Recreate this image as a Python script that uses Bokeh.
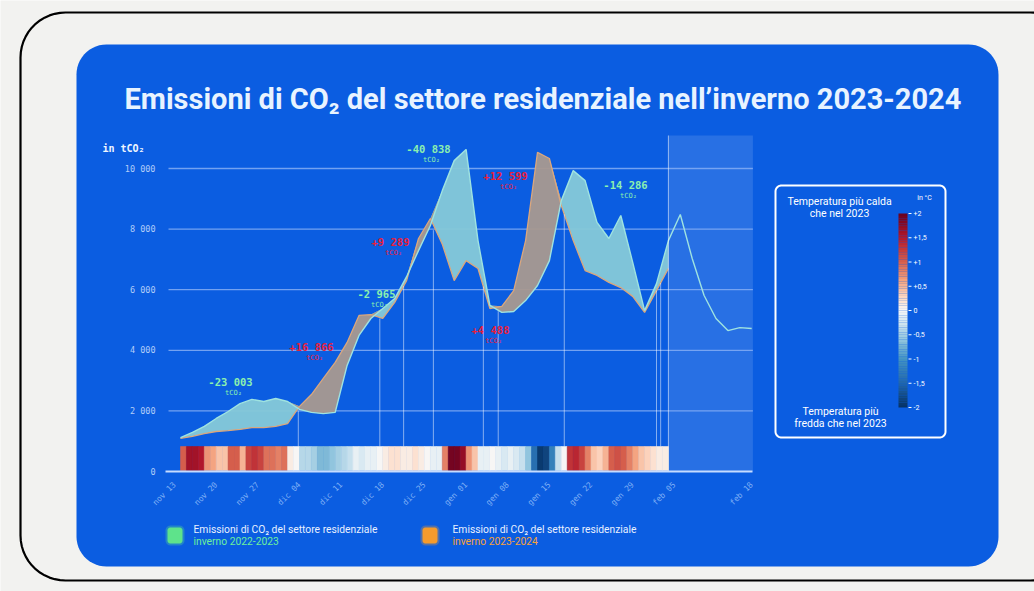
import math
import numpy as np
from bokeh.plotting import figure
from bokeh.models import Range1d, LinearAxis, FixedTicker, ColumnDataSource, LinearColorMapper
from bokeh.core.properties import value
from bokeh.embed import file_html
from bokeh.resources import INLINE

# ---------------- data ----------------
days_2223 = list(range(0, 97, 2))
emissions_2223 = [1120, 1290, 1490, 1750, 1980, 2240, 2380, 2310, 2410, 2310,
                  2050, 1950, 1910, 1950, 3500, 4490, 5050, 5380, 5710, 6430,
                  7290, 8120, 9270, 10260, 10630, 7620, 5480, 5250, 5280, 5640,
                  6140, 6960, 8940, 9930, 9600, 8220, 7690, 8450, 6900, 5310,
                  6200, 7620, 8480, 7030, 5810, 5050, 4650, 4750, 4720]
days_2324 = list(range(0, 83, 2))
emissions_2324 = [1090, 1160, 1250, 1320, 1350, 1390, 1450, 1450, 1490, 1580,
                  2150, 2540, 3070, 3600, 4260, 5150, 5180, 5050, 5580, 6300,
                  7690, 8350, 7500, 6300, 6960, 6700, 5380, 5450, 5970, 7620,
                  10530, 10330, 8780, 7620, 6630, 6470, 6240, 6070, 5780, 5250,
                  5970, 6700]
temp_days = list(range(0, 82))
temp_anomaly = [1.0, 1.6, 1.6, 1.5, 0.7, 0.6, 0.4, 0.4, 1.0, 1.0,
                0.5, 1.2, 1.3, 1.2, 0.9, 0.9, 0.8, 0.9, 0.1, 0.0,
                -0.4, -0.4, -0.5, -0.7, -0.7, -0.6, -0.5, -0.4, -0.3, -0.1,
                -0.2, -0.1, -0.1, 0.0, 0.1, 0.2, 0.2, 0.1, 0.1, 0.2,
                0.1, 0.0, -0.1, -0.1, 0.8, 1.9, 1.9, 1.7, 0.7, 0.4,
                -0.1, -0.1, 0.0, -0.1, -0.2, -0.1, -0.2, -0.3, -0.6, -1.4,
                -1.9, -1.8, -1.2, -0.3, 0.0, 1.3, 1.4, 1.2, 0.8, 0.4,
                0.3, 0.5, 1.0, 1.1, 1.0, 0.8, 0.6, 0.4, 0.3, 0.2,
                0.1, 0.1]
segment_days = [19.8, 33.5, 37.5, 42.5, 50.9, 53.4, 64.5, 80.0, 80.7]
segment_labels = ["-23 003", "+16 866", "-2 965", "+9 289", "-40 838", "+4 488", "+12 599", "-14 286"]
forecast_start = 82
x_end = 96.2
y_ticks = [0, 2000, 4000, 6000, 8000, 10000]
y_tick_labels = ["0", "2 000", "4 000", "6 000", "8 000", "10 000"]
x_ticks = [-1, 6, 13, 20, 27, 34, 41, 48, 55, 62, 69, 76, 83, 96]
x_tick_labels = ["nov 13", "nov 20", "nov 27", "dic 04", "dic 11", "dic 18", "dic 25",
                 "gen 01", "gen 08", "gen 15", "gen 22", "gen 29", "feb 05", "feb 18"]
cbar_ticks = [2, 1.5, 1, 0.5, 0, -0.5, -1, -1.5, -2]
cbar_labels = ["+2", "+1,5", "+1", "+0,5", "0", "-0,5", "-1", "-1,5", "-2"]

# ---------------- layout ----------------
W, H = 1034, 591
DAY0_PX, PX_PER_DAY = 180.0, 5.95
ZERO_PX, PX_PER_T = 471.0, 303.0 / 10000.0

def vy(py):  # pixel row -> value
    return (ZERO_PX - py) / PX_PER_T

def dx(px):  # pixel col -> day
    return (px - DAY0_PX) / PX_PER_DAY

p = figure(width=W, height=H, output_backend="svg", toolbar_location=None,
           x_axis_type=None, y_axis_type=None, min_border=0,
           x_range=Range1d(dx(0), dx(W)), y_range=Range1d(vy(H), vy(0)))
p.min_border_left = p.min_border_right = p.min_border_top = p.min_border_bottom = 0
p.outline_line_color = None
p.background_fill_color = "#f2f2f0"
p.border_fill_color = "#f2f2f0"
p.extra_x_ranges = {"px": Range1d(0, W)}
p.extra_y_ranges = {"px": Range1d(H, 0)}
PX = dict(x_range_name="px", y_range_name="px")

def rrect(x0, y0, x1, y1, r, n=14):
    xs, ys = [], []
    for cx, cy, a0, a1 in [(x1 - r, y0 + r, -90, 0), (x1 - r, y1 - r, 0, 90),
                           (x0 + r, y1 - r, 90, 180), (x0 + r, y0 + r, 180, 270)]:
        t = np.radians(np.linspace(a0, a1, n))
        xs += list(cx + r * np.cos(t))
        ys += list(cy + r * np.sin(t))
    return xs, ys

BLUE = "#0b5de1"
xs, ys = rrect(20, 12, 1075, 580, 45)
p.patch(xs, ys, fill_color=None, line_color="black", line_width=2.2, **PX)
xs, ys = rrect(76, 44, 998, 566, 30)
p.patch(xs, ys, fill_color=BLUE, line_color=None, **PX)

MONO = value("DejaVu Sans Mono")
SANS = value("Roboto")
p.text(x=[124], y=[98], text=["Emissioni di CO\u2082 del settore residenziale nell\u2019inverno 2023-2024"],
       text_font=SANS, text_font_style="bold", text_font_size="29px",
       text_color="#e8f3ff", text_baseline="middle", text_align="left", **PX)
p.text(x=[102], y=[148], text=["in tCO\u2082"], text_font=MONO, text_font_style="bold",
       text_font_size="10px", text_color="#f0f6ff", text_baseline="middle", **PX)

# shaded forecast region
p.quad(left=[forecast_start], right=[x_end], bottom=[0], top=[vy(135)],
       fill_color="white", fill_alpha=0.12, line_color=None)

# grid lines
p.segment(x0=[dx(168)] * 5, x1=[x_end] * 5, y0=y_ticks[1:], y1=y_ticks[1:],
          line_color="#7eaaf3", line_width=1.3, line_alpha=0.9)

# areas
G = np.array(emissions_2223, dtype=float)
O = np.array(emissions_2324, dtype=float)
Gc = G[:len(O)]
top = np.maximum(Gc, O)
p.varea(x=days_2324, y1=O, y2=top, fill_color="#86c9d8", fill_alpha=0.95)
p.varea(x=days_2324, y1=Gc, y2=top, fill_color="#a9998f", fill_alpha=0.95)
p.line(days_2324, O, line_color="#dba77d", line_width=1.3)
p.line(days_2223, G, line_color="#9fe3e0", line_width=1.4)

# segment separators
low = np.minimum(Gc, O)
tops = [float(np.interp(d, days_2324, low)) for d in segment_days]
p.segment(x0=segment_days, x1=segment_days, y0=[vy(446)] * len(segment_days), y1=tops,
          line_color="white", line_alpha=0.5, line_width=1)
p.segment(x0=[forecast_start], x1=[forecast_start], y0=[0], y1=[vy(135)],
          line_color="white", line_alpha=0.55, line_width=1)

# temperature strip
anchors_v = [-2, -1.5, -1, -0.6, -0.25, 0, 0.25, 0.6, 1, 1.5, 2]
anchors_c = ["#053061", "#2166ac", "#4393c3", "#92c5de", "#d1e5f0", "#f7f7f7",
             "#fddbc7", "#f4a582", "#d6604d", "#b2182b", "#67001f"]
rgb = np.array([[int(c[i:i + 2], 16) for i in (1, 3, 5)] for c in anchors_c], dtype=float)
tt = np.linspace(-2, 2, 256)
pal = ["#%02x%02x%02x" % tuple(int(round(np.interp(t, anchors_v, rgb[:, k]))) for k in range(3)) for t in tt]
mapper = LinearColorMapper(palette=pal, low=-2, high=2)
src = ColumnDataSource(dict(left=temp_days, right=[d + 1 for d in temp_days], anom=temp_anomaly))
p.quad(left="left", right="right", bottom=vy(470), top=vy(446), source=src,
       fill_color={"field": "anom", "transform": mapper},
       line_color={"field": "anom", "transform": mapper}, line_width=0.6)

# axes
xaxis = LinearAxis(fixed_location=0, bounds=(dx(165), x_end))
xaxis.ticker = FixedTicker(ticks=x_ticks)
xaxis.major_label_overrides = {t: l for t, l in zip(x_ticks, x_tick_labels)}
xaxis.major_label_orientation = math.pi / 4
xaxis.axis_line_color = "#c6dcff"
xaxis.axis_line_width = 2
xaxis.major_tick_line_color = None
xaxis.minor_tick_line_color = None
xaxis.major_label_text_color = "#7fb0f6"
xaxis.major_label_text_font = "DejaVu Sans Mono"
xaxis.major_label_text_font_size = "8px"
xaxis.major_label_standoff = 6
p.add_layout(xaxis, "below")

yaxis = LinearAxis(fixed_location=dx(164), bounds=(0, 10000))
yaxis.ticker = FixedTicker(ticks=y_ticks)
yaxis.major_label_overrides = {t: l for t, l in zip(y_ticks, y_tick_labels)}
yaxis.axis_line_color = None
yaxis.major_tick_line_color = None
yaxis.minor_tick_line_color = None
yaxis.major_label_text_color = "#b2cdf8"
yaxis.major_label_text_font = "DejaVu Sans Mono"
yaxis.major_label_text_font_size = "8.5px"
yaxis.major_label_standoff = 3
p.add_layout(yaxis, "left")

# segment annotations
ann_px = [(230, 381), (311, 346), (376, 293), (390, 241), (428, 148), (490, 329), (505, 175), (625, 184)]
cols = ["#8cf0ae" if s.startswith("-") else "#e8203c" for s in segment_labels]
p.text(x=[a[0] for a in ann_px], y=[a[1] for a in ann_px], text=segment_labels,
       text_color=cols, text_font=MONO, text_font_style="bold", text_font_size="10.5px",
       text_align="center", text_baseline="middle", **PX)
p.text(x=[a[0] + 3 for a in ann_px], y=[a[1] + 11 for a in ann_px], text=["tCO\u2082"] * len(ann_px),
       text_color=cols, text_font=MONO, text_font_size="7px",
       text_align="center", text_baseline="middle", **PX)

# colour legend box
xs, ys = rrect(775, 185, 945, 437, 6)
p.patch(xs, ys, fill_color=None, line_color="white", line_width=2, **PX)
p.text(x=[839, 839], y=[201, 213], text=["Temperatura pi\u00f9 calda", "che nel 2023"],
       text_color="white", text_font=SANS, text_font_size="10.5px", text_align="center",
       text_baseline="middle", **PX)
p.text(x=[840, 840], y=[411, 423], text=["Temperatura pi\u00f9", "fredda che nel 2023"],
       text_color="white", text_font=SANS, text_font_size="10.5px", text_align="center",
       text_baseline="middle", **PX)
p.text(x=[924], y=[197], text=["in \u00b0C"], text_color="white", text_font=SANS,
       text_font_size="7px", text_align="center", text_baseline="middle", **PX)
nb = 80
edges = np.linspace(-2, 2, nb + 1)
cb_top, cb_bot = 213.0, 407.0
def cy(v):
    return cb_top + (2 - v) / 4 * (cb_bot - cb_top)
p.quad(left=[898] * nb, right=[907] * nb, top=[cy(v) for v in edges[1:]], bottom=[cy(v) for v in edges[:-1]],
       fill_color=[pal[int(round((0.5 * (a + b) + 2) / 4 * 255))] for a, b in zip(edges[:-1], edges[1:])],
       line_color=None, **PX)
p.segment(x0=[908] * len(cbar_ticks), x1=[911] * len(cbar_ticks), y0=[cy(v) for v in cbar_ticks],
          y1=[cy(v) for v in cbar_ticks], line_color="white", line_width=1, **PX)
p.text(x=[913] * len(cbar_ticks), y=[cy(v) for v in cbar_ticks], text=cbar_labels, text_color="white",
       text_font=SANS, text_font_size="7px", text_align="left", text_baseline="middle", **PX)

# series legend
for (x0, tx, col, sub, subcol) in [(167, 193, "#5ee38b", "inverno 2022-2023", "#6ef09a"),
                                   (422, 452, "#f59b2d", "inverno 2023-2024", "#f7a23a")]:
    xs, ys = rrect(x0 - 2, 525, x0 + 17, 545, 5)
    p.patch(xs, ys, fill_color=col, fill_alpha=0.3, line_color=None, **PX)
    xs, ys = rrect(x0, 527, x0 + 15, 543, 3)
    p.patch(xs, ys, fill_color=col, line_color=None, **PX)
    p.text(x=[tx, tx], y=[529, 541], text=["Emissioni di CO\u2082 del settore residenziale", sub],
           text_color=["#e8f0ff", subcol], text_font=SANS, text_font_size="10.3px",
           text_align="left", text_baseline="middle", **PX)

open("out.html", "w").write(file_html(p, INLINE))
